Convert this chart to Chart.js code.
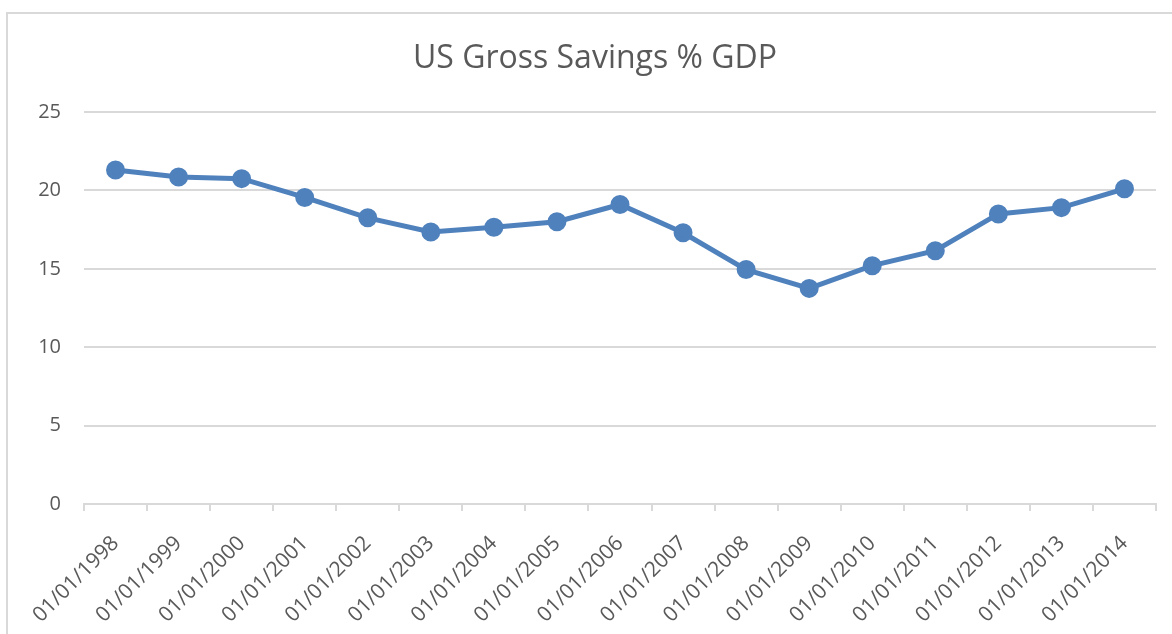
<!DOCTYPE html>
<html>
<head>
<meta charset="utf-8">
<script src="https://cdn.jsdelivr.net/npm/chart.js@4"></script>
<style>
  html, body { margin: 0; padding: 0; background: #fff; }
  #wrap { position: relative; width: 1172px; height: 634px; }
  #frame { position: absolute; left: 6px; top: 12px; right: -2px; bottom: -2px; border: 2px solid #d9d9d9; pointer-events: none; }
</style>
</head>
<body>
<div id="wrap">
  <canvas id="myChart" width="1172" height="634"></canvas>
  <div id="frame"></div>
</div>
<script>
const labels = ['01/01/1998', '01/01/1999', '01/01/2000', '01/01/2001', '01/01/2002', '01/01/2003',
  '01/01/2004', '01/01/2005', '01/01/2006', '01/01/2007', '01/01/2008', '01/01/2009',
  '01/01/2010', '01/01/2011', '01/01/2012', '01/01/2013', '01/01/2014'];
const savings = [21.3, 20.85, 20.75, 19.55, 18.25, 17.35, 17.65, 18.0, 19.1, 17.3,
  14.95, 13.75, 15.2, 16.15, 18.5, 18.9, 20.1];
const yTicks = [0, 5, 10, 15, 20, 25];

const grey = '#595959';
const ctx = document.getElementById('myChart').getContext('2d');

const myChart = new Chart(ctx, {
  type: 'line',
  data: {
    labels: labels,
    datasets: [{
      label: 'US Gross Savings % GDP',
      data: savings,
      borderColor: '#4f81bd',
      backgroundColor: '#4f81bd',
      borderWidth: 5,
      pointRadius: 7,
      pointHoverRadius: 7,
      tension: 0
    }]
  },
  options: {
    responsive: false,
    animation: false,
    layout: { padding: { left: 34, right: 16, top: 0, bottom: 0 } },
    plugins: {
      legend: { display: false },
      tooltip: { enabled: false },
      title: {
        display: true,
        text: 'US Gross Savings % GDP',
        color: grey,
        font: { family: 'Open Sans', size: 32, weight: 'normal' },
        padding: { top: 40, bottom: 33.6 }
      }
    },
    scales: {
      x: {
        offset: true,
        afterFit: function(scale) { scale.height = 130; },
        grid: {
          offset: true,
          drawOnChartArea: false,
          color: '#d9d9d9',
          lineWidth: 2,
          tickLength: 7
        },
        border: { color: '#d9d9d9', width: 2 },
        ticks: {
          color: grey,
          font: { family: 'Open Sans', size: 21 },
          minRotation: 45,
          maxRotation: 45,
          autoSkip: false,
          padding: 20
        }
      },
      y: {
        min: 0,
        max: 25,
        afterFit: function(scale) { scale.width = 50; },
        afterBuildTicks: function(scale) {
          scale.ticks = yTicks.map(v => ({ value: v }));
        },
        grid: {
          color: '#d9d9d9',
          lineWidth: 2,
          drawTicks: false
        },
        border: { display: false },
        ticks: {
          color: grey,
          font: { family: 'Open Sans', size: 20 },
          padding: 23
        }
      }
    }
  }
});
</script>
</body>
</html>
